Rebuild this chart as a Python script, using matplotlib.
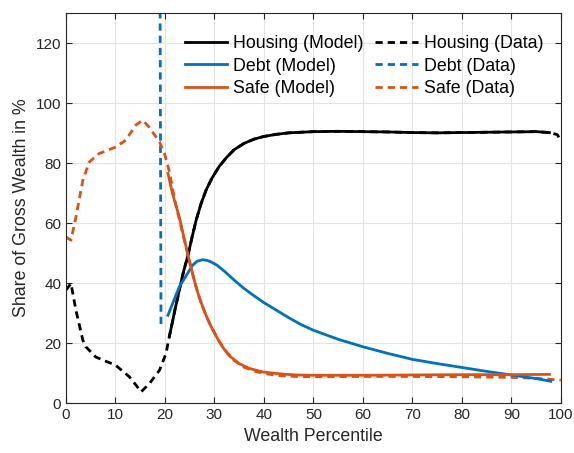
import numpy as np
import matplotlib
matplotlib.use('Agg')
import matplotlib.pyplot as plt

plt.rcParams['font.family'] = ['Liberation Sans', 'DejaVu Sans']

# values
housing_model_x = [20.9, 21.5, 22, 22.9, 23.7, 24.6, 25.5, 26.3, 27.3, 28.3, 29.5, 31, 32.5, 34, 36, 38, 40, 42.5, 45,
                   50, 55, 60, 65, 70, 75, 80, 85, 90, 95, 97.7]
housing_model_y = [22.3, 27, 31, 37.7, 43.5, 49, 55.5, 61, 66.5, 71, 75, 79, 82, 84.5, 86.6, 88, 88.9, 89.6, 90.1,
                   90.5, 90.6, 90.5, 90.4, 90.2, 90.1, 90.2, 90.3, 90.4, 90.5, 90.2]

# the data line runs under the model line above x = 21
housing_data_x = [0, 1, 2, 3.4, 4, 6, 8, 10, 12.8, 15.2, 16.9, 18.9, 20.2,
                  20.9, 21.5, 22, 22.9, 23.7, 24.6, 25.5, 26.3, 27.3, 28.3, 29.5, 31, 32.5, 34, 36, 38, 40, 42.5, 45,
                  50, 55, 60, 65, 70, 75, 80, 85, 90, 95, 97.7, 99.3, 100]
housing_data_y = [37.7, 39.9, 31, 21, 18.8, 15.4, 14, 12.7, 8.8, 3.8, 6.6, 11, 16.5,
                  22.3, 27, 31, 37.7, 43.5, 49, 55.5, 61, 66.5, 71, 75, 79, 82, 84.5, 86.6, 88, 88.9, 89.6, 90.1,
                  90.5, 90.6, 90.5, 90.4, 90.2, 90.1, 90.2, 90.3, 90.4, 90.5, 90.2, 89.5, 87.5]

debt_model_x = [20.6, 22.9, 25.6, 26.5, 27.6, 28.5, 29.3, 30.5, 32, 34, 36, 38, 40, 42.5, 45, 47.5, 50,
                55, 60, 65, 70, 75, 80, 85, 90, 95, 98]
debt_model_y = [29.3, 38.8, 46, 47.3, 47.8, 47.6, 47.1, 46, 44, 41, 38.2, 35.8, 33.5, 31, 28.5, 26.2, 24.3,
                21.3, 18.8, 16.6, 14.6, 13.2, 11.9, 10.6, 9.4, 8.2, 7.3]

debt_data_x = [18.9, 19.0, 19.2]
debt_data_y = [300, 140, 25]

safe_model_x = [20.6, 21.5, 22.9, 24, 24.9, 26, 26.9, 28, 29, 30.3, 31.6, 33, 35, 37, 39.8, 43, 46.5, 50, 60, 70, 80, 90, 97.7]
safe_model_y = [76.6, 70, 62, 54, 47.7, 40.5, 35.4, 30.5, 26.6, 22.5, 18.8, 15.8, 13.2, 11.6, 10.4, 9.8, 9.4, 9.3, 9.3, 9.4, 9.5, 9.5, 9.6]

safe_data_x = [0, 1, 2, 3.4, 4.7, 6.7, 10.1, 12.1, 14.1, 15.5, 16.8, 18.9, 19.9, 20.9,
               22, 23.3, 24.5, 25.5, 26.5, 27.5, 28.5, 29.5, 31, 32.5, 34, 36, 38, 40, 43, 46.5, 50,
               60, 70, 80, 90, 95, 100]
safe_data_y = [55.4, 54.3, 62, 74.3, 80.4, 83.2, 85.4, 87.7, 92.7, 94.3, 92, 87.1, 83.2, 77.1,
               67.5, 58.5, 50.5, 43.5, 37.5, 32.5, 28.5, 25, 20.5, 17, 14.2, 12, 10.7, 9.9, 9.2, 8.9, 8.8,
               8.9, 8.9, 8.8, 8.6, 8.3, 7.7]

blue = '#0072BD'
orange = '#D95319'
dash = (2.6, 1.8)

fig = plt.figure(figsize=(5.74, 4.53), dpi=100)
ax = fig.add_axes([0.115, 0.110, 0.862, 0.861])

# data first so the model lines sit on top where they overlap
hd, = ax.plot(housing_data_x, housing_data_y, color='black', lw=2, dashes=dash, label='Housing (Data)')
dd, = ax.plot(debt_data_x, debt_data_y, color=blue, lw=2, dashes=dash, label='Debt (Data)')
sd, = ax.plot(safe_data_x, safe_data_y, color=orange, lw=2, dashes=dash, label='Safe (Data)')
hm, = ax.plot(housing_model_x, housing_model_y, color='black', lw=2, label='Housing (Model)')
dm, = ax.plot(debt_model_x, debt_model_y, color=blue, lw=2, label='Debt (Model)')
sm, = ax.plot(safe_model_x, safe_model_y, color=orange, lw=2, label='Safe (Model)')

ax.set_xlim(0, 100)
ax.set_ylim(0, 130)
ax.set_xticks(np.arange(0, 101, 10))
ax.set_yticks(np.arange(0, 121, 20))
ax.grid(True, color='#e3e3e3', lw=0.8)
ax.set_axisbelow(True)
ax.tick_params(direction='in', top=True, right=True, labelsize=11, colors='#262626', length=4)
for s in ax.spines.values():
    s.set_color('#262626')
    s.set_linewidth(0.8)

ax.set_xlabel('Wealth Percentile', fontsize=12.8, color='#262626')
ax.set_ylabel('Share of Gross Wealth in %', fontsize=12.8, color='#262626')

ax.legend(handles=[hm, dm, sm, hd, dd, sd], ncol=2, frameon=False, loc='upper right',
          fontsize=12.8, handlelength=2.4, columnspacing=0.65, handletextpad=0.33,
          labelspacing=0.3, borderpad=0.2, bbox_to_anchor=(0.99, 0.975))

fig.savefig('out.png', dpi=100)
